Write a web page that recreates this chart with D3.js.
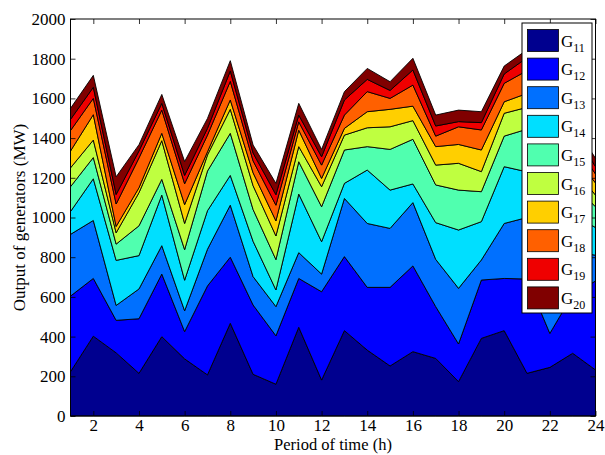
<!DOCTYPE html>
<html>
<head>
<meta charset="utf-8">
<script src="https://cdn.jsdelivr.net/npm/d3@7"></script>
<style>
  html, body { margin: 0; padding: 0; background: #fff; }
  svg { display: block; }
  svg text { font-family: "Liberation Serif", "Times New Roman", Times, serif; fill: #000; }
</style>
</head>
<body>
<svg id="chart" width="605" height="455"></svg>
<script>
// ---- data (MW per generator, periods 1..24) ----
const periods = [1,2,3,4,5,6,7,8,9,10,11,12,13,14,15,16,17,18,19,20,21,22,23,24];
const seriesNames = ["G11","G12","G13","G14","G15","G16","G17","G18","G19","G20"];
const G11 = [223,402,318,215,400,288,207,467,210,160,447,181,430,332,252,324,290,173,391,430,215,245,316,232];
const G12 = [381,291,164,275,315,137,448,333,349,244,246,445,373,316,396,432,261,190,294,263,475,171,296,448];
const G13 = [311,292,75,150,143,105,185,262,143,147,130,89,293,322,297,319,238,280,101,277,310,364,218,130];
const G14 = [115,210,227,168,255,154,194,150,178,84,295,163,76,269,193,94,185,294,193,286,230,280,180,140];
const G15 = [125,107,82,150,79,154,200,212,160,153,163,176,168,118,205,225,190,201,151,154,215,210,160,104];
const G16 = [95,88,57,167,195,132,81,121,120,119,76,101,75,95,114,94,100,135,101,115,110,120,80,59];
const G17 = [85,128,32,25,37,95,16,47,65,76,83,42,34,81,88,73,93,95,109,58,70,80,70,61];
const G18 = [103,82,113,150,117,105,84,94,60,79,42,67,67,101,55,106,53,89,101,93,115,90,70,45];
const G19 = [56,56,48,35,34,42,34,52,40,53,34,42,76,62,40,76,51,26,37,47,65,50,50,37];
const G20 = [56,60,89,32,45,70,50,52,40,57,59,37,42,55,44,59,55,58,55,40,40,40,40,42];
const seriesValues = [G11,G12,G13,G14,G15,G16,G17,G18,G19,G20];
const xTicks = [2,4,6,8,10,12,14,16,18,20,22,24];
const yTicks = [0,200,400,600,800,1000,1200,1400,1600,1800,2000];
const colors = ["#00008f","#0000ff","#0070ff","#00dfff","#50ffaf","#bfff40","#ffcf00","#ff6000","#ef0000","#800000"];

// ---- layout ----
const FONT = '"Liberation Serif", "Times New Roman", Times, serif';
const svg = d3.select("#chart");
const L = 70.5, R = 595.5, T = 19, B = 416;
const x = d3.scaleLinear().domain([1, 24]).range([L, R]);
const y = d3.scaleLinear().domain([0, 2000]).range([B, T]);

const rows = periods.map((p, i) => {
  const o = { period: p };
  seriesNames.forEach((n, j) => { o[n] = seriesValues[j][i]; });
  return o;
});
const stacked = d3.stack().keys(seriesNames)(rows);

const area = d3.area()
  .x(d => x(d.data.period))
  .y0(d => y(d[0]))
  .y1(d => y(d[1]));

svg.append("g").selectAll("path")
  .data(stacked)
  .join("path")
  .attr("d", area)
  .attr("fill", (d, i) => colors[i])
  .attr("stroke", "#000")
  .attr("stroke-width", 0.9)
  .attr("stroke-linejoin", "miter");

// ---- axes ----
const fs = 17;
const fmt = d3.format("d");
const yAxis = svg.append("g").attr("transform", `translate(${L},0)`)
  .call(d3.axisLeft(y).tickValues(yTicks).tickFormat(fmt).tickSizeInner(-5).tickSizeOuter(0).tickPadding(5));
const yAxisR = svg.append("g").attr("transform", `translate(${R},0)`)
  .call(d3.axisRight(y).tickValues(yTicks).tickSizeInner(-5).tickSizeOuter(0).tickFormat(""));
const xAxis = svg.append("g").attr("transform", `translate(0,${B})`)
  .call(d3.axisBottom(x).tickValues(xTicks).tickFormat(fmt).tickSizeInner(-5).tickSizeOuter(0).tickPadding(3));
const xAxisT = svg.append("g").attr("transform", `translate(0,${T})`)
  .call(d3.axisTop(x).tickValues(xTicks).tickSizeInner(-5).tickSizeOuter(0).tickFormat(""));

[yAxis, yAxisR, xAxis, xAxisT].forEach(g => {
  g.attr("font-family", FONT).attr("font-size", fs);
  g.select(".domain").remove();
  g.selectAll("line").attr("stroke", "#000").attr("stroke-width", 0.8);
  g.selectAll("text").attr("font-family", FONT).attr("font-size", fs).attr("fill", "#000");
});

svg.append("rect")
  .attr("x", L).attr("y", T).attr("width", R - L).attr("height", B - T)
  .attr("fill", "none").attr("stroke", "#000").attr("stroke-width", 1);

// axis titles
svg.append("text")
  .attr("x", (L + R) / 2).attr("y", 450)
  .attr("text-anchor", "middle").attr("font-family", FONT).attr("font-size", 16.5)
  .text("Period of time (h)");
svg.append("text")
  .attr("transform", `translate(25,${(T + B) / 2}) rotate(-90)`)
  .attr("text-anchor", "middle").attr("font-family", FONT).attr("font-size", 17)
  .text("Output of generators (MW)");

// ---- legend ----
const lg = svg.append("g");
const lx = 522, ly = 23, lw = 70, lh = 290;
lg.append("rect").attr("x", lx).attr("y", ly).attr("width", lw).attr("height", lh)
  .attr("fill", "#fff").attr("stroke", "#000").attr("stroke-width", 1);
const rowH = 28.6;
seriesNames.forEach((n, i) => {
  const ry = ly + 6.5 + i * rowH;
  lg.append("rect").attr("x", lx + 5.5).attr("y", ry).attr("width", 31).attr("height", 22)
    .attr("fill", colors[i]).attr("stroke", "#000").attr("stroke-width", 0.8);
  const t = lg.append("text").attr("x", lx + 39).attr("y", ry + 17)
    .attr("font-family", FONT).attr("font-size", 17);
  t.append("tspan").text(n.charAt(0));
  t.append("tspan").attr("dy", 5).attr("font-size", 12).text(n.slice(1));
});
</script>
</body>
</html>
